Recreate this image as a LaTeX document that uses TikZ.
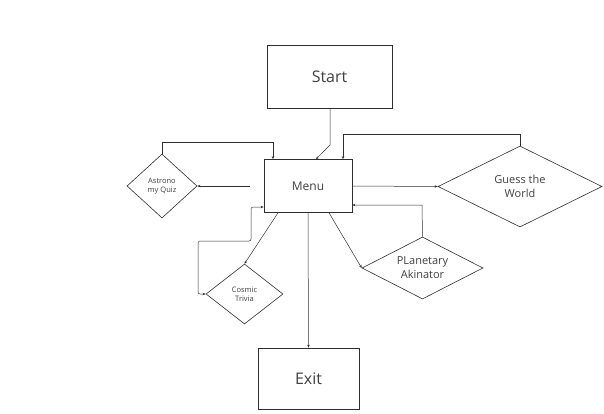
\documentclass[tikz,border=0pt]{standalone}
\usepackage{fontspec}
\setmainfont{Open Sans}
\usetikzlibrary{shapes.geometric,arrows.meta}
\definecolor{ln}{HTML}{2E2E2E}
\definecolor{tx}{HTML}{404040}
\tikzset{
  box/.style={draw=ln,line width=0.7pt,rectangle,inner sep=0pt,text=tx},
  dia/.style={draw=ln,line width=0.6pt,diamond,inner sep=0pt,text=tx,align=center},
  conn/.style={draw=ln,line width=0.5pt,-{Stealth[length=3pt,width=2.5pt]}},
}
\begin{document}
\begin{tikzpicture}[x=1pt,y=-1pt]
\useasboundingbox (0,0) rectangle (604,413);
\node[box,minimum width=125pt,minimum height=63pt,font=\fontsize{16}{18}\selectfont] (start) at (329.5,76.5) {Start};
\node[box,minimum width=88pt,minimum height=53pt,font=\fontsize{12}{14}\selectfont] (menu) at (308,186) {Menu};
\node[box,minimum width=101pt,minimum height=61pt,font=\fontsize{16}{18}\selectfont] (exit) at (308.5,378.5) {Exit};
\node[dia,aspect=1.1,minimum width=70pt,minimum height=64pt,font=\fontsize{7.5}{9}\selectfont] (astro) at (162,186) {Astrono\\my Quiz};
\node[dia,aspect=2,minimum width=164pt,minimum height=81pt,font=\fontsize{11}{14}\selectfont] (guess) at (520,186.5) {Guess the\\World};
\node[dia,aspect=2,minimum width=121pt,minimum height=62pt,font=\fontsize{11}{14}\selectfont] (plan) at (422.5,268) {PLanetary\\Akinator};
\node[dia,aspect=1.3,minimum width=77pt,minimum height=60pt,font=\fontsize{7.5}{9}\selectfont] (cosmic) at (244.5,294) {Cosmic\\Trivia};
\coordinate (mq) at (250,186);
% start -> menu
\draw[conn] (start.south -| 330,0) -- (330,145) -- (menu.north -| 316,0);
% menu -> astro
\draw[conn] (mq) -- (astro.east);
% astro -> menu
\draw[conn] (astro.north) -- (162,142) -- (273,142) -- (menu.north -| 273,0);
% menu -> guess
\draw[conn] (menu.east) -- (guess.west);
% guess -> menu
\draw[conn] (guess.north) -- (520,134) -- (343,134) -- (menu.north -| 343,0);
% menu -> planetary
\draw[conn] (menu.south -| 329,0) -- (plan.west);
% planetary -> menu
\draw[conn] (plan.north) -- (422,205) -- (menu.east |- 0,205);
% menu -> cosmic
\draw[conn] (menu.south -| 278,0) -- (cosmic.north);
% cosmic <-> menu loop
\draw[conn,{Stealth[length=3pt,width=2.5pt]}-{Stealth[length=3pt,width=2.5pt]},rounded corners=2pt] (cosmic.west) -- (198,294) -- (198,241) -- (251,241) -- (251,207) -- (menu.west |- 0,207);
% menu -> exit
\draw[conn] (menu.south) -- (exit.north);
\end{tikzpicture}
\end{document}
